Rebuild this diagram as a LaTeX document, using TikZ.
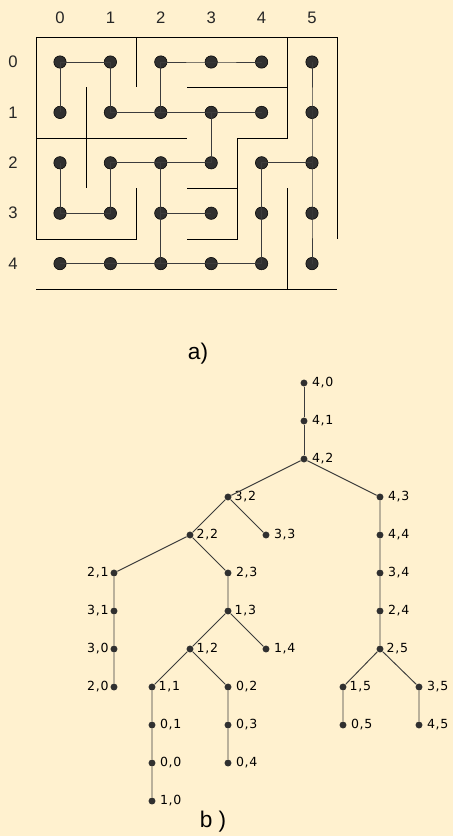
\documentclass[tikz,border=0pt]{standalone}
\usepackage{fontspec}
\setmainfont{Liberation Sans}
\newfontfamily\tlfont[LetterSpace=6]{DejaVu Sans}
\usetikzlibrary{positioning}
\definecolor{mzpaper}{HTML}{FFF1CF}
\definecolor{mzdot}{HTML}{303030}
\definecolor{mzlink}{HTML}{3C3C3C}

\begin{document}
\begin{tikzpicture}[x=0.75pt, y=-0.75pt,
    mdot/.style={circle, fill=mzdot, draw=black, inner sep=0pt, minimum size=9.3pt},
    tdot/.style={circle, fill=mzdot, inner sep=0pt, minimum size=5.2pt},
    wall/.style={black, line width=0.65pt},
    link/.style={mzlink, line width=0.75pt},
    num/.style={font=\fontsize{12.5}{14}\selectfont, color=black!85},
    lbl/.style={font=\tlfont\fontsize{9.4}{11}\selectfont, inner sep=1pt},
    caption/.style={font=\fontsize{17}{20}\selectfont}
]

\fill[mzpaper] (0,0) rectangle (453,836);
\useasboundingbox (0,0) rectangle (453,836);

% Maze: cells and numbers
\foreach \r in {0,...,4}
  \foreach \c in {0,...,5}
    \node[mdot] (m\r\c) at ({60+50.4*\c},{62+50.4*\r}) {};
\foreach \c in {0,...,5}
  \node[num] (col\c) at ({60+50.4*\c},18) {\c};
\foreach \r in {0,...,4}
  \node[num] (row\r) at (13,{62+50.4*\r}) {\r};

% Maze walls
\draw[wall] (136,188) -- (136,239) -- (36,239) -- (36,37) -- (337,37) -- (337,239);
\draw[wall] (136,37) -- (136,87);
\draw[wall] (86,87) -- (86,188);
\draw[wall] (36,138) -- (187,138);
\draw[wall] (187,87) -- (287,87);
\draw[wall] (287,37) -- (287,138) -- (237,138) -- (237,239) -- (187,239);
\draw[wall] (187,188) -- (237,188);
\draw[wall] (287,188) -- (287,289);
\draw[wall] (36,289) -- (337,289);

% Maze paths
\draw[link] (m10.center) -- (m00.center) -- (m01.center) -- (m11.center) -- (m12.center) -- (m13.center) -- (m14.center);
\draw[link] (m12.center) -- (m02.center) -- (m03.center) -- (m04.center);
\draw[link] (m05.center) -- (m15.center) -- (m25.center) -- (m35.center) -- (m45.center);
\draw[link] (m13.center) -- (m23.center) -- (m22.center) -- (m21.center) -- (m31.center) -- (m30.center) -- (m20.center);
\draw[link] (m22.center) -- (m32.center) -- (m33.center);
\draw[link] (m32.center) -- (m42.center);
\draw[link] (m40.center) -- (m41.center) -- (m42.center) -- (m43.center) -- (m44.center) -- (m34.center) -- (m24.center) -- (m25.center);

\node[caption] (capa) at (198,354) {a)};

% Tree of the maze
\node[tdot, label={[lbl, label distance=2pt]right:{4,0}}] (t40) at (304,383) {};
\node[tdot, label={[lbl, label distance=2pt]right:{4,1}}] (t41) at (304,421) {};
\node[tdot, label={[lbl, label distance=2pt]right:{4,2}}] (t42) at (304,459) {};
\node[tdot, label={[lbl, label distance=1pt]right:{3,2}}] (t32) at (228,497) {};
\node[tdot, label={[lbl, label distance=2pt]right:{4,3}}] (t43) at (380,497) {};
\node[tdot, label={[lbl, label distance=1pt]right:{2,2}}] (t22) at (190,535) {};
\node[tdot, label={[lbl, label distance=2pt]right:{3,3}}] (t33) at (266,535) {};
\node[tdot, label={[lbl, label distance=2pt]right:{4,4}}] (t44) at (380,535) {};
\node[tdot, label={[lbl, label distance=0pt]left:{2,1}}] (t21) at (114,573) {};
\node[tdot, label={[lbl, label distance=2pt]right:{2,3}}] (t23) at (228,573) {};
\node[tdot, label={[lbl, label distance=2pt]right:{3,4}}] (t34) at (380,573) {};
\node[tdot, label={[lbl, label distance=0pt]left:{3,1}}] (t31) at (114,611) {};
\node[tdot, label={[lbl, label distance=1pt]right:{1,3}}] (t13) at (228,611) {};
\node[tdot, label={[lbl, label distance=2pt]right:{2,4}}] (t24) at (380,611) {};
\node[tdot, label={[lbl, label distance=0pt]left:{3,0}}] (t30) at (114,649) {};
\node[tdot, label={[lbl, label distance=1pt]right:{1,2}}] (t12) at (190,649) {};
\node[tdot, label={[lbl, label distance=2pt]right:{1,4}}] (t14) at (266,649) {};
\node[tdot, label={[lbl, label distance=1pt]right:{2,5}}] (t25) at (380,649) {};
\node[tdot, label={[lbl, label distance=0pt]left:{2,0}}] (t20) at (114,687) {};
\node[tdot, label={[lbl, label distance=1pt]right:{1,1}}] (t11) at (152,687) {};
\node[tdot, label={[lbl, label distance=2pt]right:{0,2}}] (t02) at (228,687) {};
\node[tdot, label={[lbl, label distance=1pt]right:{1,5}}] (t15) at (343,687) {};
\node[tdot, label={[lbl, label distance=2pt]right:{3,5}}] (t35) at (419,687) {};
\node[tdot, label={[lbl, label distance=2pt]right:{0,1}}] (t01) at (152,725) {};
\node[tdot, label={[lbl, label distance=2pt]right:{0,3}}] (t03) at (228,725) {};
\node[tdot, label={[lbl, label distance=2pt]right:{0,5}}] (t05) at (343,725) {};
\node[tdot, label={[lbl, label distance=2pt]right:{4,5}}] (t45) at (419,725) {};
\node[tdot, label={[lbl, label distance=2pt]right:{0,0}}] (t00) at (152,763) {};
\node[tdot, label={[lbl, label distance=2pt]right:{0,4}}] (t04) at (228,763) {};
\node[tdot, label={[lbl, label distance=2pt]right:{1,0}}] (t10) at (152,801) {};

\draw[link, line width=0.7pt] (t40) -- (t41) -- (t42);
\draw[link, line width=0.7pt] (t42) -- (t32);
\draw[link, line width=0.7pt] (t42) -- (t43) -- (t44) -- (t34) -- (t24) -- (t25);
\draw[link, line width=0.7pt] (t32) -- (t22);
\draw[link, line width=0.7pt] (t32) -- (t33);
\draw[link, line width=0.7pt] (t22) -- (t21) -- (t31) -- (t30) -- (t20);
\draw[link, line width=0.7pt] (t22) -- (t23) -- (t13);
\draw[link, line width=0.7pt] (t13) -- (t12);
\draw[link, line width=0.7pt] (t13) -- (t14);
\draw[link, line width=0.7pt] (t12) -- (t11) -- (t01) -- (t00) -- (t10);
\draw[link, line width=0.7pt] (t12) -- (t02) -- (t03) -- (t04);
\draw[link, line width=0.7pt] (t25) -- (t15) -- (t05);
\draw[link, line width=0.7pt] (t25) -- (t35) -- (t45);

\node[caption] (capb) at (213,822) {b )};

\end{tikzpicture}
\end{document}
